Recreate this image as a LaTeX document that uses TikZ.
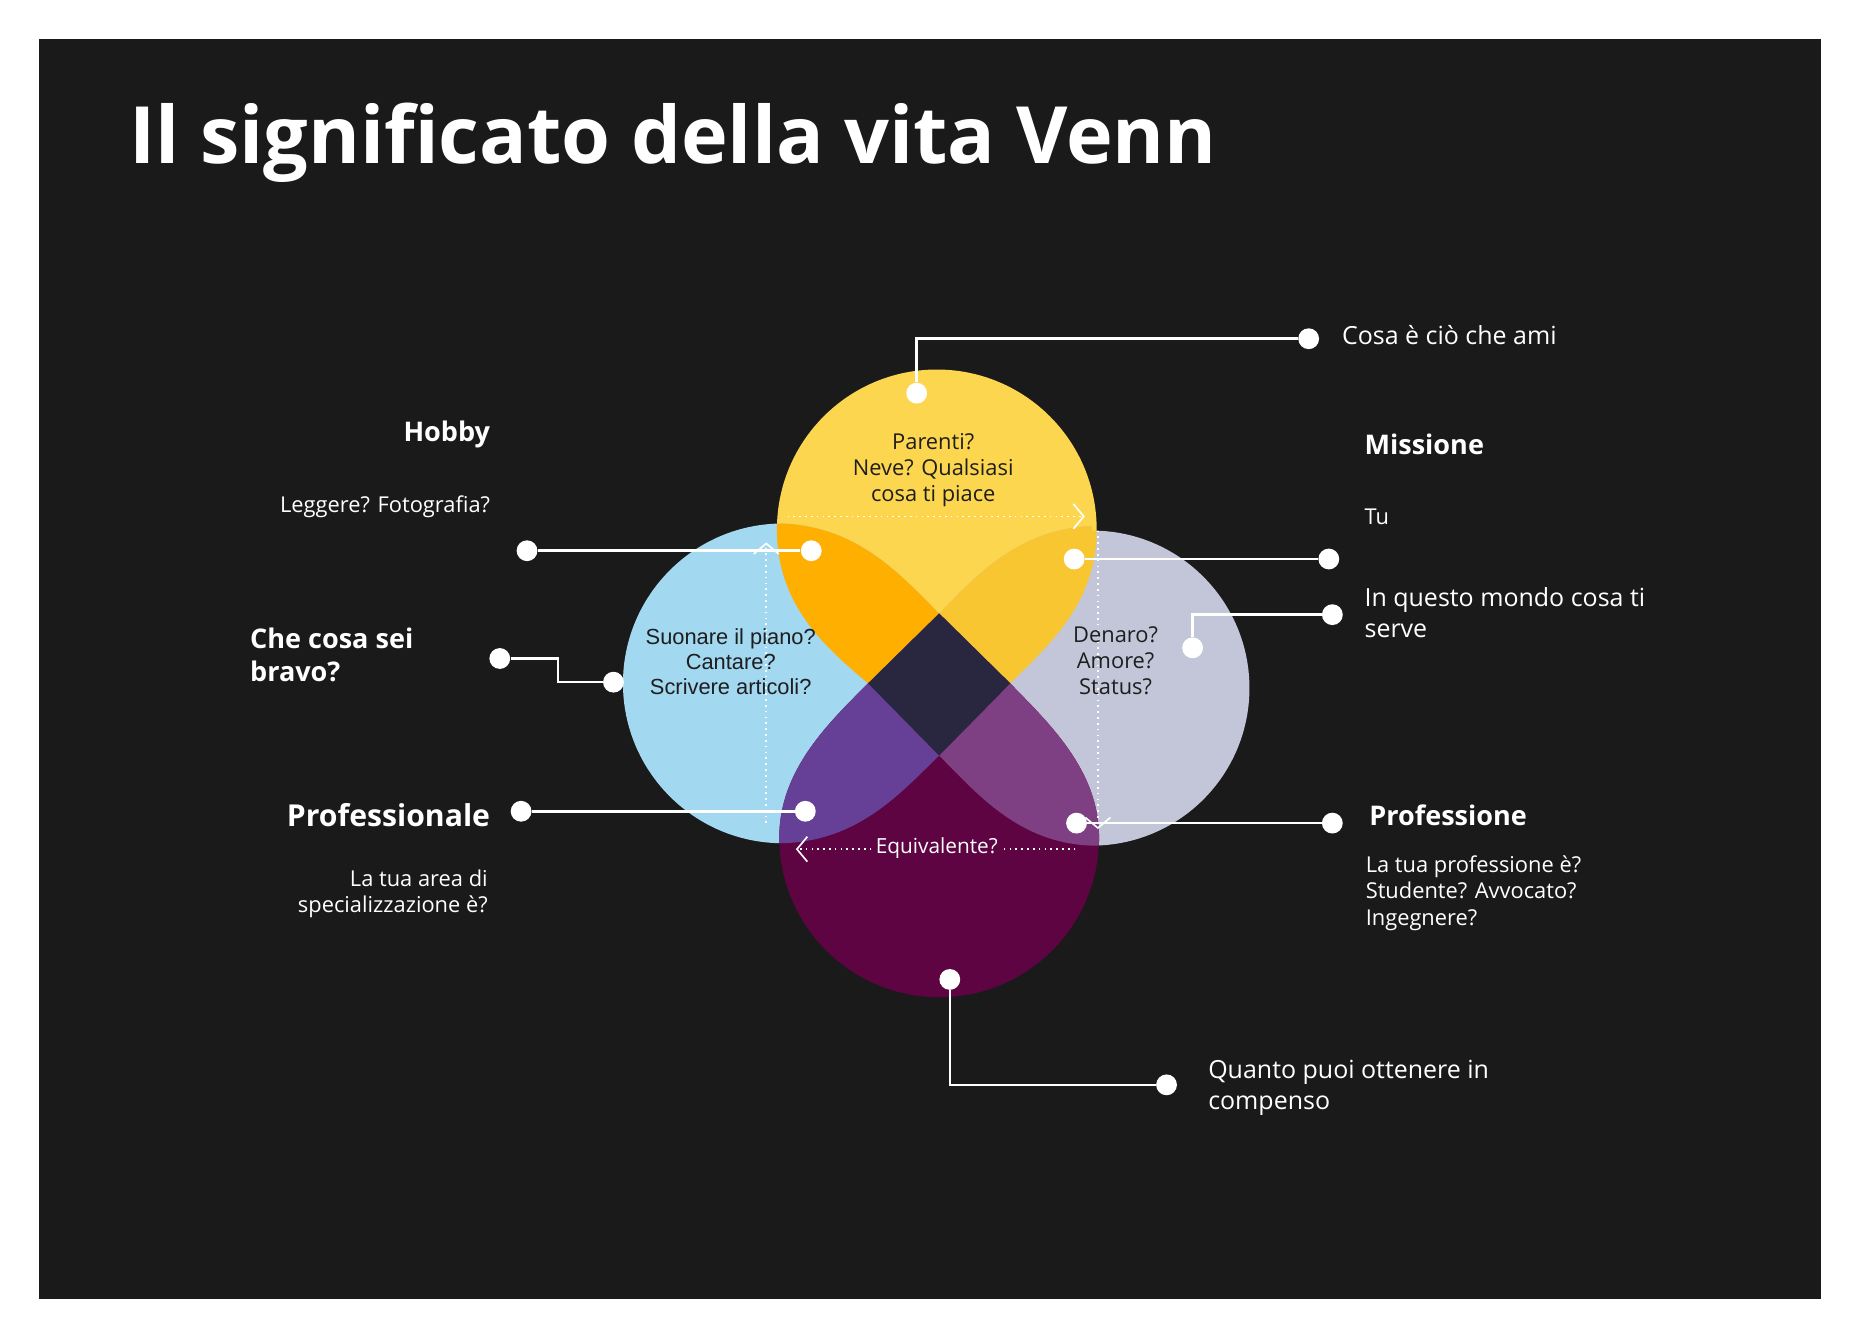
\documentclass[tikz,border=0pt]{standalone}
\usepackage{fontspec}
\setmainfont{Open Sans}
\newfontfamily\arialfont{Liberation Sans}
\usetikzlibrary{arrows.meta}
\definecolor{bgdark}{HTML}{1A1A1A}
\definecolor{petalyellow}{HTML}{FCD64F}
\definecolor{petalblue}{HTML}{A2D8F0}
\definecolor{petalgrey}{HTML}{C3C6D8}
\definecolor{petalpurple}{HTML}{5E0443}
\definecolor{mixorange}{HTML}{FFAF00}
\definecolor{mixgold}{HTML}{F8C630}
\definecolor{mixviolet}{HTML}{663F96}
\definecolor{mixplum}{HTML}{7F3F83}
\definecolor{mixcenter}{HTML}{29273F}
\definecolor{inktext}{HTML}{1E1E1E}
% petal outlines
\newcommand\yellowpetal{(656,447) arc[start angle=180,end angle=360,radius=135]
  .. controls (926,510) and (885,545) .. (853,577) -- (793,638) -- (733,577)
  .. controls (695,545) and (656,510) .. cycle}
\newcommand\bluepetal{(661,442) .. controls (725,445) and (760,485) .. (793,518)
  -- (853,577) -- (793,638) .. controls (760,670) and (725,710) .. (661,712)
  arc[start angle=90,end angle=270,radius=135]}
\newcommand\greypetal{(922,444) .. controls (860,447) and (825,485) .. (793,518)
  -- (733,577) -- (793,638) .. controls (825,670) and (860,712) .. (922,714)
  arc[start angle=90,end angle=-90,radius=133]}
\newcommand\purplepetal{(928,707) .. controls (928,650) and (885,610) .. (853,577)
  -- (793,518) -- (733,577) .. controls (700,610) and (658,650) .. (658,707)
  arc[start angle=180,end angle=0,radius=135]}
\tikzset{
  callout/.style={draw=white, line width=1.2pt},
  pin/.style={circle, fill=white, inner sep=0pt, minimum size=10},
  guide/.style={draw=white, dotted, line width=0.8pt},
  heading/.style={text=white, font=\bfseries\fontsize{13}{16}\selectfont},
  note/.style={text=white, font=\fontsize{12}{15}\selectfont, align=left},
  smallnote/.style={text=white, font=\fontsize{10.5}{12.8}\selectfont},
  petaltext/.style={text=inktext, align=center, font=\fontsize{10.5}{12.5}\selectfont}
}
\begin{document}
\begin{tikzpicture}[x=0.02cm,y=-0.02cm]
\useasboundingbox (0,0) rectangle (1568,1127);
\fill[white] (0,0) rectangle (1568,1127);
\fill[bgdark] (33,33) rectangle (1538,1097);
\node[anchor=base west, text=white, font=\bfseries\fontsize{38}{44}\selectfont] (title) at (103,138) {Il significato della vita Venn};

% petals
\fill[petalyellow] \yellowpetal;
\fill[petalblue] \bluepetal;
\fill[petalgrey] \greypetal;
\fill[petalpurple] \purplepetal;
\begin{scope}\clip \yellowpetal; \fill[mixorange] \bluepetal; \fill[mixgold] \greypetal; \end{scope}
\begin{scope}\clip \purplepetal; \fill[mixviolet] \bluepetal; \fill[mixplum] \greypetal; \end{scope}
\fill[mixcenter] (793,518) -- (853,577) -- (793,638) -- (733,577) -- cycle;

% guides
\draw[guide, -{Straight Barb[length=5pt,width=12pt]}] (665,436) -- (916,436);
\draw[guide, -{Straight Barb[length=5pt,width=12pt]}] (647,695) -- (647,458);
\draw[guide, -{Straight Barb[length=5pt,width=12pt]}] (927,448) -- (927,700);
\draw[guide, -{Straight Barb[length=5pt,width=12pt]}] (908,717) -- (672,717);
\node[text=white, fill=petalpurple, inner sep=1pt, font=\fontsize{10}{12}\selectfont] (equiv) at (791,716) {Equivalente?};

% petal texts
\node[petaltext] (love) at (788,397) {Parenti?\\Neve? Qualsiasi\\cosa ti piace};
\node[petaltext, font=\arialfont\fontsize{10.5}{12}\selectfont] (good) at (617,559) {Suonare il piano?\\Cantare?\\Scrivere articoli?};
\node[petaltext] (need) at (942,558) {Denaro?\\Amore?\\Status?};

% callouts
\node[pin] (p1a) at (774,332) {}; \node[pin] (p1b) at (1105,286) {};
\draw[callout] (p1a) |- (p1b);
\node[note, anchor=west] (lovetxt) at (1127,283) {Cosa è ciò che ami};

\node[pin] (p2a) at (685,465) {}; \node[pin] (p2b) at (445,465) {};
\draw[callout] (p2a) -- (p2b);
\node[heading, anchor=east] (hobby) at (420,367) {Hobby};
\node[smallnote, anchor=east] (hobbytxt) at (420,428) {Leggere? Fotografia?};

\node[pin] (p3a) at (518,576) {}; \node[pin] (p3b) at (422,556) {};
\draw[callout] (p3b) -- (471,556) -- (471,576) -- (p3a);
\node[heading, anchor=north west, align=left] (goodtxt) at (205,524) {Che cosa sei\\bravo?};

\node[pin] (p4a) at (680,685) {}; \node[pin] (p4b) at (440,685) {};
\draw[callout] (p4a) -- (p4b);
\node[heading, anchor=east, font=\bfseries\fontsize{14.5}{18}\selectfont] (prof) at (420,688) {Professionale};
\node[smallnote, anchor=north east, align=right] (proftxt) at (418,728) {La tua area di\\specializzazione è?};

\node[pin] (p5a) at (907,472) {}; \node[pin] (p5b) at (1122,472) {};
\draw[callout] (p5a) -- (p5b);
\node[heading, anchor=west] (mission) at (1146,375) {Missione};
\node[smallnote, anchor=west] (tu) at (1146,436) {Tu};

\node[pin] (p6a) at (1007,547) {}; \node[pin] (p6b) at (1125,519) {};
\draw[callout] (p6a) |- (p6b);
\node[note, anchor=north west] (needtxt) at (1146,490) {In questo mondo cosa ti\\serve};

\node[pin] (p7a) at (909,695) {}; \node[pin] (p7b) at (1125,695) {};
\draw[callout] (p7a) -- (p7b);
\node[heading, anchor=west] (job) at (1150,688) {Professione};
\node[smallnote, anchor=north west, align=left] (jobtxt) at (1147,716) {La tua professione è?\\Studente? Avvocato?\\Ingegnere?};

\node[pin] (p8a) at (802,827) {}; \node[pin] (p8b) at (985,916) {};
\draw[callout] (p8a) |- (p8b);
\node[note, anchor=north west] (paytxt) at (1014,889) {Quanto puoi ottenere in\\compenso};
\end{tikzpicture}
\end{document}
